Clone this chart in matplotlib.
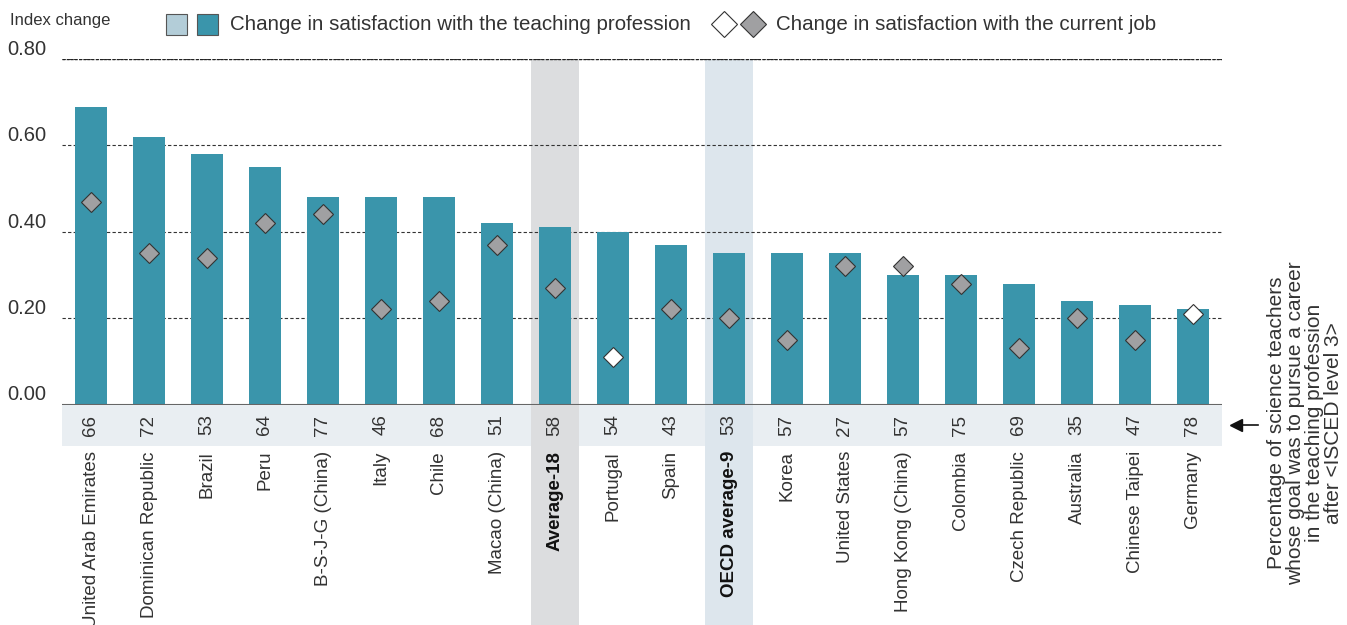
import matplotlib
matplotlib.use("Agg")
import matplotlib.pyplot as plt
from matplotlib.patches import Rectangle
from matplotlib.lines import Line2D

plt.rcParams['font.family'] = ['Liberation Sans', 'DejaVu Sans']

categories = ["United Arab Emirates", "Dominican Republic", "Brazil", "Peru", "B-S-J-G (China)",
              "Italy", "Chile", "Macao (China)", "Average-18", "Portugal", "Spain", "OECD average-9",
              "Korea", "United States", "Hong Kong (China)", "Colombia", "Czech Republic",
              "Australia", "Chinese Taipei", "Germany"]
profession_change = [0.69, 0.62, 0.58, 0.55, 0.48, 0.48, 0.48, 0.42, 0.41, 0.40, 0.37, 0.35,
                     0.35, 0.35, 0.30, 0.30, 0.28, 0.24, 0.23, 0.22]
profession_significant = [True] * 20
job_change = [0.47, 0.35, 0.34, 0.42, 0.44, 0.22, 0.24, 0.37, 0.27, 0.11, 0.22, 0.20,
              0.15, 0.32, 0.32, 0.28, 0.13, 0.20, 0.15, 0.21]
job_significant = [True, True, True, True, True, True, True, True, True, False, True, True,
                   True, True, True, True, True, True, True, False]
pct_teachers = [66, 72, 53, 64, 77, 46, 68, 51, 58, 54, 43, 53, 57, 27, 57, 75, 69, 35, 47, 78]
yticks = [0.0, 0.2, 0.4, 0.6, 0.8]
highlight = {"Average-18": "#dcdddf", "OECD average-9": "#dde6ed"}

W, H = 1347, 625
fig = plt.figure(figsize=(W / 100, H / 100), dpi=100)
ax_left, ax_right, ax_top, ax_bot = 62, 1222, 59, 404.5
ax = fig.add_axes([ax_left / W, 1 - ax_bot / H, (ax_right - ax_left) / W, (ax_bot - ax_top) / H])
ax.set_xlim(-0.5, len(categories) - 0.5)
ax.set_ylim(0, 0.8)
dpp = 0.8 / (ax_bot - ax_top)  # data units per pixel

txt = "#333333"
bar_dark = "#3a95ab"
bar_light = "#b3cdd8"

# highlight columns
for i, c in enumerate(categories):
    if c in highlight:
        ax.add_patch(Rectangle((i - 0.415, -(H - ax_bot) * dpp), 0.83, 0.8 + (H - ax_bot) * dpp,
                               facecolor=highlight[c], edgecolor="none", zorder=1, clip_on=False))

# number band
ax.add_patch(Rectangle((-0.5, -(446 - ax_bot) * dpp), len(categories), (446 - ax_bot) * dpp,
                       facecolor="#e9eef2", edgecolor="none", zorder=0.5, clip_on=False))

# gridlines
for yv in yticks[1:]:
    ax.axhline(yv, color="#333333", lw=0.8, ls=(0, (3, 2)), zorder=2)
ax.axhline(0.8, color="#222222", lw=1.0, ls=(0, (2, 1)), zorder=2)
ax.axhline(0, color="#666666", lw=1.5, zorder=4)

x = list(range(len(categories)))
ax.bar(x, profession_change, width=0.56,
       color=[bar_dark if s else bar_light for s in profession_significant], zorder=3)
for xi, v, s in zip(x, job_change, job_significant):
    ax.plot(xi, v, marker="D", markersize=10, markerfacecolor="#a0a0a2" if s else "white",
            markeredgecolor="#333333", markeredgewidth=0.8, zorder=5, linestyle="none")

# numbers in band
for xi, n in zip(x, pct_teachers):
    ax.text(xi, -(425 - ax_bot) * dpp, str(n), rotation=90, ha="center", va="center",
            fontsize=13.5, color=txt, clip_on=False, zorder=6)

for s in ax.spines.values():
    s.set_visible(False)
ax.set_yticks(yticks)
ax.set_yticklabels([f"{v:.2f}" for v in yticks], fontsize=14.5, color=txt)
ax.tick_params(axis="y", length=0, pad=11)
for lab in ax.get_yticklabels():
    lab.set_verticalalignment("bottom")
ax.set_xticks(x)
ax.set_xticklabels(categories, rotation=90, fontsize=13.5, color=txt, va="top", ha="center")
ax.tick_params(axis="x", length=0, pad=(451 - ax_bot) * 0.72)
for lab in ax.get_xticklabels():
    if lab.get_text() in highlight:
        lab.set_fontweight("bold")
        lab.set_color("#111111")

# header
fig.text(10 / W, 1 - 21 / H, "Index change", fontsize=12, color=txt, va="center", ha="left")
sq = 21
for x0, col in [(166, bar_light), (197, bar_dark)]:
    fig.patches.append(Rectangle((x0 / W, 1 - 35 / H), sq / W, sq / H, transform=fig.transFigure,
                                 facecolor=col, edgecolor="#555555", lw=0.8))
fig.text(230 / W, 1 - 24 / H, "Change in satisfaction with the teaching profession", fontsize=14.8,
         color=txt, va="center", ha="left")
for xc, fc in [(724, "white"), (753, "#a0a0a2")]:
    fig.add_artist(Line2D([xc / W], [1 - 24 / H], marker="D", markersize=13, markerfacecolor=fc,
                          markeredgecolor="#333333", markeredgewidth=0.8, transform=fig.transFigure))
fig.text(776 / W, 1 - 24 / H, "Change in satisfaction with the current job", fontsize=14.8,
         color=txt, va="center", ha="left")

# right note
fig.text(1305 / W, 1 - 423 / H,
         "Percentage of science teachers\nwhose goal was to pursue a career\nin the teaching profession\nafter <ISCED level 3>",
         rotation=90, ha="center", va="center", multialignment="center", fontsize=15,
         color=txt, linespacing=1.0)
fig.add_artist(Line2D([1258 / W, 1240 / W], [1 - 425 / H] * 2, color="#111111", lw=1.2,
                      transform=fig.transFigure))
fig.add_artist(Line2D([1236 / W], [1 - 425 / H], marker="<", markersize=8, color="#111111",
                      transform=fig.transFigure))

fig.savefig("out.png", dpi=100)
